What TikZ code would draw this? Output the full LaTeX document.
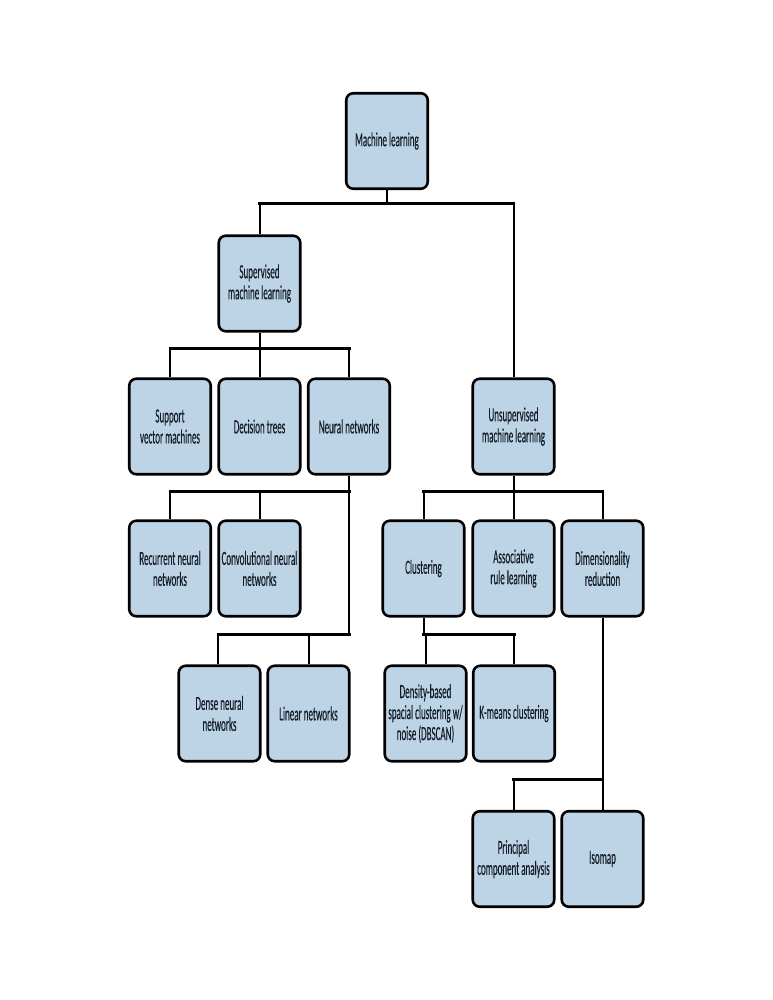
\documentclass[tikz,border=0pt]{standalone}
\usepackage{fontspec}
\setmainfont[FakeStretch=0.45,FakeBold=0.25]{Carlito}
\definecolor{boxfill}{HTML}{BDD4E7}
\definecolor{boxtext}{HTML}{141C26}
\begin{document}
\begin{tikzpicture}[x=1pt,y=-1pt,
  box/.style={draw=black, fill=boxfill, line width=2.6pt, rounded corners=7pt,
    minimum width=81.5pt, minimum height=95.5pt, inner sep=1pt, align=center,
    text=boxtext, font=\fontsize{20}{21}\selectfont},
  vl/.style={draw=black, line width=2pt},
  hb/.style={draw=black, line width=3pt, line cap=rect}]
\useasboundingbox (0,0) rectangle (772,1000);
\fill[white] (0,0) rectangle (772,1000);
% nodes
\node[box] (ml) at (387,141) {Machine learning};
\node[box] (sup) at (259.5,283.5) {Supervised\\machine learning};
\node[box] (svm) at (170,426.5) {Support\\vector machines};
\node[box] (dt) at (259.5,426.5) {Decision trees};
\node[box] (nn) at (349,426.5) {Neural networks};
\node[box] (unsup) at (513.5,426.5) {Unsupervised\\machine learning};
\node[box] (rnn) at (170,568.5) {Recurrent neural\\networks};
\node[box] (cnn) at (259.5,568.5) {Convolutional neural\\networks};
\node[box] (clu) at (423.5,568.5) {Clustering};
\node[box] (arl) at (513.5,568.5) {Associative\\rule learning};
\node[box] (dim) at (602.5,568.5) {Dimensionality\\reduction};
\node[box] (dense) at (219.5,713.5) {Dense neural\\networks};
\node[box] (lin) at (308.5,713.5) {Linear networks};
\node[box] (dbs) at (425.5,713.5) {Density-based\\spacial clustering w/\\noise (DBSCAN)};
\node[box] (km) at (514,713.5) {K-means clustering};
\node[box] (pca) at (513.5,859) {Principal\\component analysis};
\node[box] (iso) at (602.5,859) {Isomap};
% junctions
\coordinate (j1) at (387,204);
\coordinate (j2) at (260,348);
\coordinate (j3) at (349,491);
\coordinate (j4) at (513,491);
\coordinate (j5) at (349,634);
\coordinate (j6) at (424,634);
\coordinate (j7) at (603,779);
% ml
\draw[vl] (ml.south) -- (ml.south |- j1);
\draw[vl] (sup.north |- j1) -- (sup.north);
\draw[vl] (unsup.north |- j1) -- (unsup.north);
\draw[hb] (sup.north |- j1) -- (unsup.north |- j1);
% supervised
\draw[vl] (sup.south) -- (sup.south |- j2);
\draw[vl] (svm.north |- j2) -- (svm.north);
\draw[vl] (dt.north |- j2) -- (dt.north);
\draw[vl] (nn.north |- j2) -- (nn.north);
\draw[hb] (svm.north |- j2) -- (nn.north |- j2);
% neural networks
\draw[vl] (nn.south) -- (nn.south |- j5);
\draw[vl] (rnn.north |- j3) -- (rnn.north);
\draw[vl] (cnn.north |- j3) -- (cnn.north);
\draw[hb] (rnn.north |- j3) -- (nn.south |- j3);
\coordinate (j5a) at (218,634);
\draw[vl] (j5a) -- (j5a |- dense.north);
\draw[vl] (lin.north |- j5) -- (lin.north);
\draw[hb] (j5a) -- (nn.south |- j5);
% unsupervised
\draw[vl] (unsup.south) -- (unsup.south |- j4);
\draw[vl] (clu.north |- j4) -- (clu.north);
\draw[vl] (arl.north |- j4) -- (arl.north);
\draw[vl] (dim.north |- j4) -- (dim.north);
\draw[hb] (clu.north |- j4) -- (dim.north |- j4);
% clustering
\draw[vl] (clu.south) -- (clu.south |- j6);
\draw[vl] (dbs.north |- j6) -- (dbs.north);
\draw[vl] (km.north |- j6) -- (km.north);
\draw[hb] (clu.south |- j6) -- (km.north |- j6);
% dimensionality
\draw[vl] (dim.south) -- (dim.south |- j7);
\draw[vl] (pca.north |- j7) -- (pca.north);
\draw[vl] (iso.north |- j7) -- (iso.north);
\draw[hb] (pca.north |- j7) -- (dim.south |- j7);
\end{tikzpicture}
\end{document}
